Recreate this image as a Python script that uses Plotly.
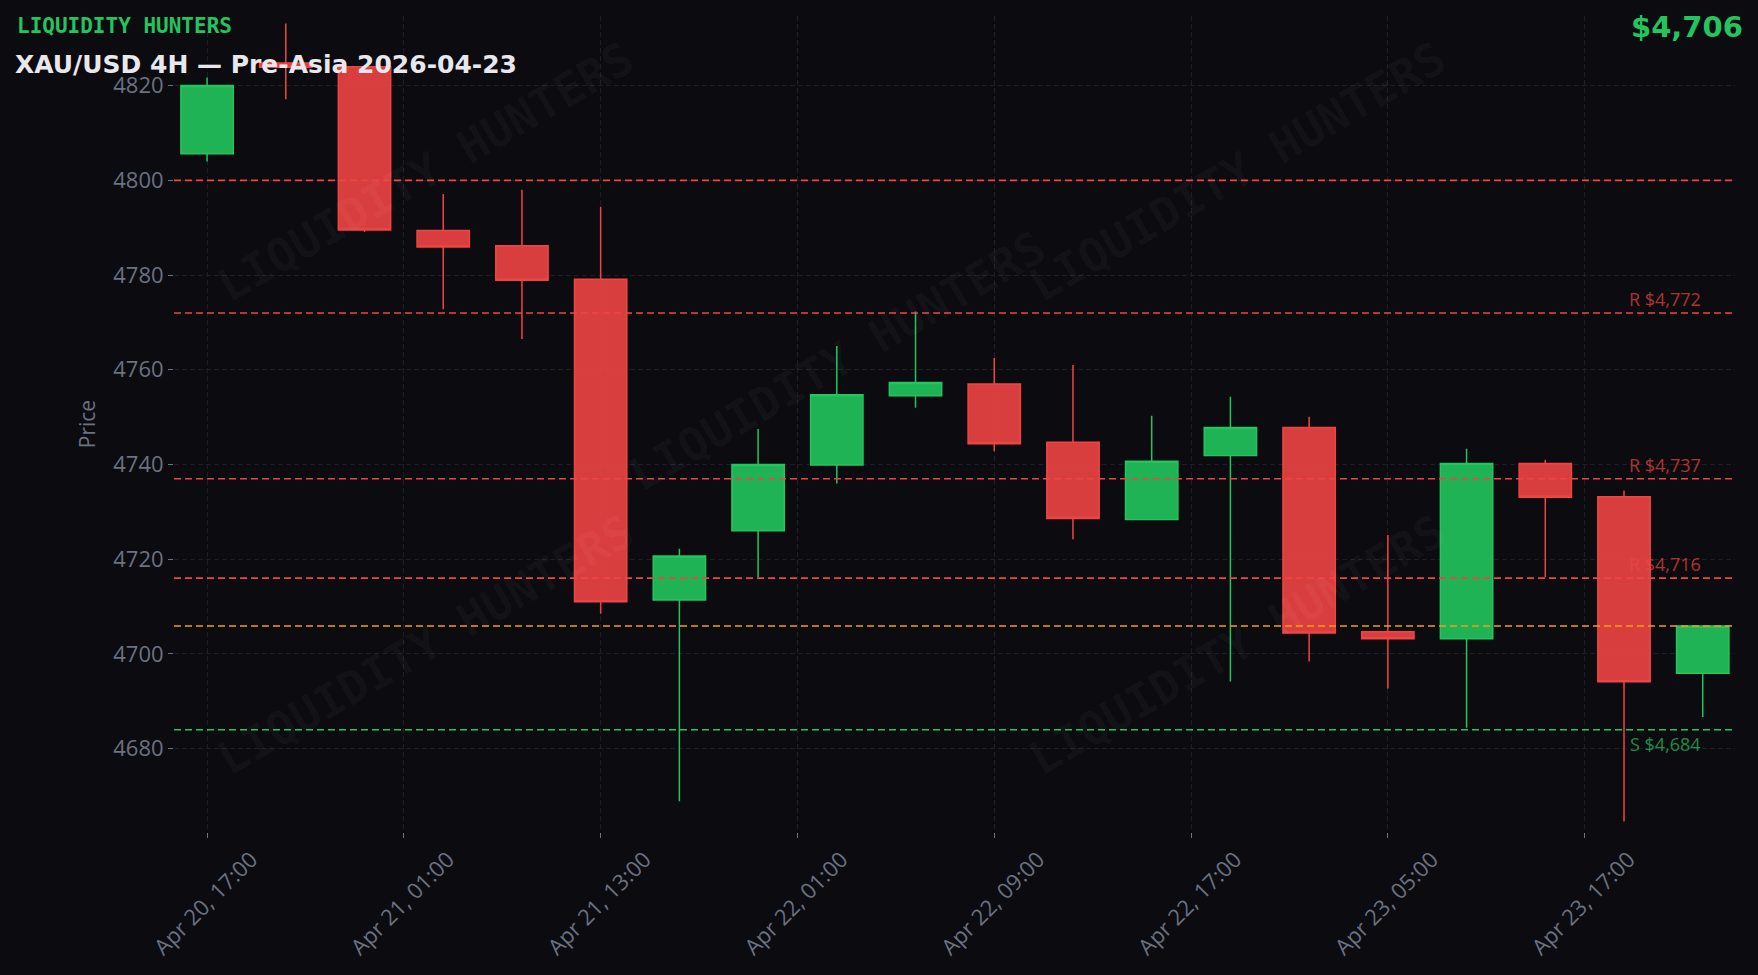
import plotly.graph_objects as go

# 顏色設定
bg = '#0b0b10'
green = '#22c55e'
red = '#ef4444'
orange = '#f59e0b'
gray = '#6b7280'

# 4H K線資料
idx = list(range(20))
opens = [4805.6, 4824.8, 4824.0, 4789.4, 4786.2, 4779.1, 4711.4, 4726.0, 4739.9, 4754.5,
         4757.0, 4744.7, 4728.4, 4741.9, 4747.8, 4704.7, 4703.2, 4740.2, 4733.2, 4695.9]
highs = [4821.7, 4833.1, 4824.0, 4797.1, 4798.0, 4794.4, 4722.2, 4747.5, 4765.0, 4772.3,
         4762.5, 4761.0, 4750.3, 4754.3, 4750.1, 4725.1, 4743.3, 4741.0, 4734.5, 4705.9]
lows = [4804.0, 4817.1, 4789.1, 4772.8, 4766.5, 4708.5, 4668.9, 4716.2, 4736.0, 4752.0,
        4742.8, 4724.2, 4728.4, 4694.2, 4698.4, 4692.7, 4684.4, 4716.2, 4664.6, 4686.7]
closes = [4820.0, 4823.9, 4789.5, 4785.9, 4778.9, 4711.0, 4720.7, 4740.0, 4754.7, 4757.3,
          4744.4, 4728.6, 4740.7, 4747.8, 4704.4, 4703.2, 4740.2, 4733.1, 4694.1, 4705.9]

tick_pos = [0, 2.5, 5, 7.5, 10, 12.5, 15, 17.5]
tick_text = ['Apr 20, 17:00', 'Apr 21, 01:00', 'Apr 21, 13:00', 'Apr 22, 01:00',
             'Apr 22, 09:00', 'Apr 22, 17:00', 'Apr 23, 05:00', 'Apr 23, 17:00']

# 壓力 / 支撐
round_levels = [4800]
res_levels = [4772, 4737, 4716]
sup_levels = [4684]
last_price = closes[-1]

fig = go.Figure(go.Candlestick(
    x=idx, open=opens, high=highs, low=lows, close=closes,
    increasing=dict(line=dict(color=green, width=1.5), fillcolor='rgba(34,197,94,0.9)'),
    decreasing=dict(line=dict(color=red, width=1.5), fillcolor='rgba(239,68,68,0.9)'),
    showlegend=False, hoverinfo='skip'))

shapes = []
annotations = []

# 水平線 (畫在K線上方)
for lv in round_levels + res_levels:
    shapes.append(dict(type='line', xref='paper', x0=0, x1=1, y0=lv, y1=lv, layer='above',
                       line=dict(color=red, width=1.6, dash='7px,4px')))
for lv in sup_levels:
    shapes.append(dict(type='line', xref='paper', x0=0, x1=1, y0=lv, y1=lv, layer='above',
                       line=dict(color=green, width=1.6, dash='7px,4px')))
shapes.append(dict(type='line', xref='paper', x0=0, x1=1, y0=last_price, y1=last_price, layer='above',
                   line=dict(color=orange, width=1.6, dash='7px,4px')))

for lv in res_levels:
    annotations.append(dict(x=idx[-1], y=lv, xref='x', yref='y', text=f'R ${lv:,}', showarrow=False,
                            xanchor='right', yanchor='bottom',
                            font=dict(family='Open Sans', size=18, color='rgba(239,68,68,0.72)')))
for lv in sup_levels:
    annotations.append(dict(x=idx[-1], y=lv, xref='x', yref='y', text=f'S ${lv:,}', showarrow=False,
                            xanchor='right', yanchor='top',
                            font=dict(family='Open Sans', size=18, color='rgba(34,197,94,0.72)')))

# 浮水印
for wx, wy in [(0.161, 0.809), (0.681, 0.809), (0.425, 0.577), (0.161, 0.229), (0.681, 0.229)]:
    annotations.append(dict(x=wx, y=wy, xref='paper', yref='paper', text='<b>LIQUIDITY HUNTERS</b>',
                            showarrow=False, textangle=-30, xanchor='center', yanchor='middle',
                            font=dict(family='DejaVu Sans Mono', size=46, color='rgba(255,255,255,0.035)')))

annotations.append(dict(x=-0.102, y=0.988, xref='paper', yref='paper', text='<b>LIQUIDITY HUNTERS</b>',
                        showarrow=False, xanchor='left', yanchor='middle',
                        font=dict(family='DejaVu Sans Mono', size=21, color=green)))
annotations.append(dict(x=1.0065, y=0.987, xref='paper', yref='paper', text=f'<b>${last_price:,.0f}</b>',
                        showarrow=False, xanchor='right', yanchor='middle',
                        font=dict(family='DejaVu Sans', size=29, color=green)))

fig.update_layout(
    width=1758, height=975,
    paper_bgcolor=bg, plot_bgcolor=bg,
    margin=dict(l=174, r=23, t=16, b=143),
    font=dict(family='Open Sans', color=gray, size=22),
    boxgap=0.3, boxgroupgap=0.05,
    title=dict(text='<b>XAU/USD 4H — Pre-Asia 2026-04-23</b>', x=0.0085, xanchor='left',
               y=1 - 64 / 975, yanchor='middle',
               font=dict(family='DejaVu Sans', size=25, color='#e8e8ec')),
    shapes=shapes,
    annotations=annotations,
    xaxis=dict(range=[-0.42, 19.41], tickvals=tick_pos, ticktext=tick_text, tickangle=-45,
               ticklabelshift=44,
               rangeslider=dict(visible=False), showgrid=True, gridcolor='#1e1e27', griddash='5px,3px',
               zeroline=False, showline=False, ticks='outside', ticklen=5, tickcolor=gray,
               tickfont=dict(size=22, color=gray)),
    yaxis=dict(range=[4662.4, 4834.7], dtick=20, showgrid=True, gridcolor='#1e1e27', griddash='5px,3px',
               zeroline=False, showline=False, ticks='outside', ticklen=5, tickcolor=gray,
               tickfont=dict(size=22, color=gray),
               title=dict(text='Price', standoff=11, font=dict(size=21, color=gray))),
)

# 去掉頁面預設邊距
fig.write_html('out.html', config={'displayModeBar': False},
               post_script="document.body.style.margin='0';"
                           "document.body.style.overflow='hidden';"
                           "document.body.style.background='#0b0b10';")
